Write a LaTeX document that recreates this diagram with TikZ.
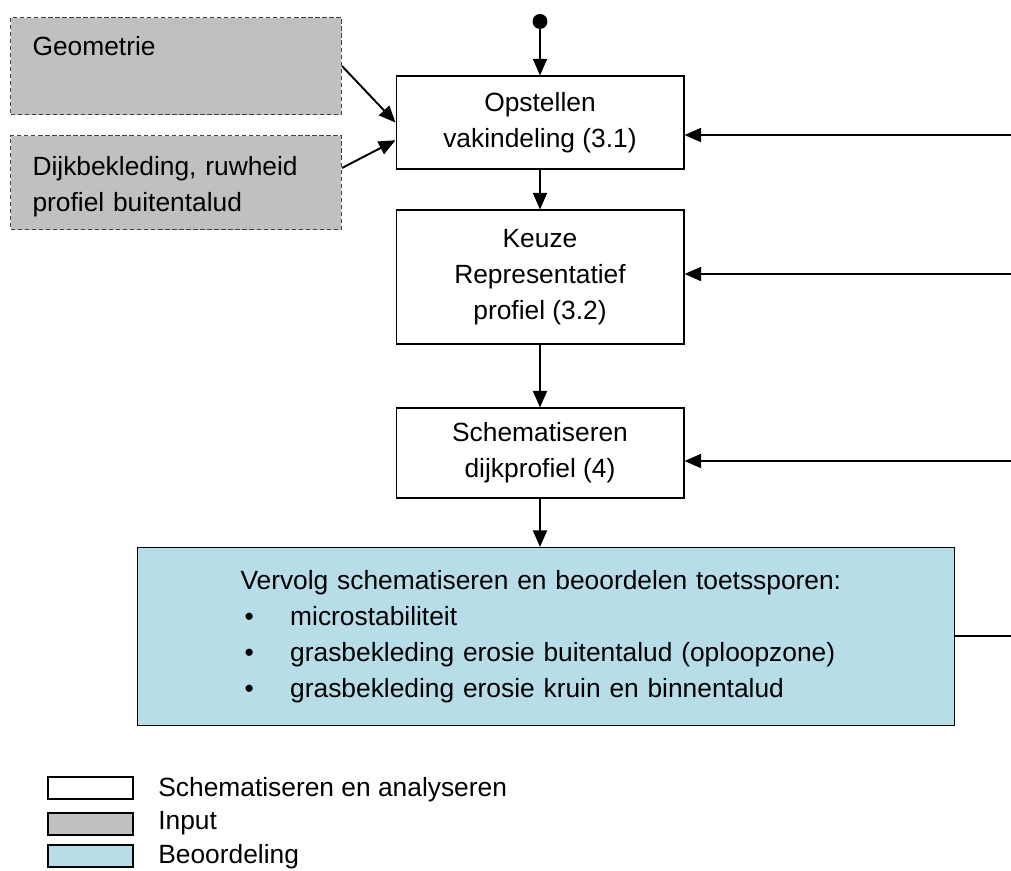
\documentclass[tikz,border=0pt]{standalone}
\usepackage{fontspec}
\setmainfont{Liberation Sans}
\usetikzlibrary{arrows.meta}
\definecolor{inpgray}{HTML}{C0C0C0}
\definecolor{beoblue}{HTML}{B7DDE8}
\definecolor{dkgray}{HTML}{404040}
\newcommand{\boxfont}{\fontsize{15}{20.5}\selectfont}
\newcommand{\bul}{\hspace*{2.3pt}\makebox[26pt][l]{\textbullet}}
\tikzset{
  proc/.style={rectangle,draw=black,fill=white,line width=0.6pt,
               minimum width=5.76cm,align=center,font=\boxfont,
               inner sep=0pt},
  inp/.style={rectangle,draw=dkgray,fill=inpgray,line width=0.6pt,
              dash pattern=on 2.5pt off 1.5pt,anchor=north west,
              text width=5.74cm,align=left,font=\boxfont,
              inner xsep=0.44cm,inner ysep=0pt},
  beo/.style={rectangle,draw=black,fill=beoblue,line width=0.6pt,
              anchor=north west,minimum width=16.34cm,minimum height=3.56cm,
              text width=12.22cm,align=left,font=\boxfont,
              inner xsep=2.06cm,inner ysep=0pt},
  key/.style={rectangle,draw=black,fill=#1,line width=0.6pt,
              minimum width=1.7cm,minimum height=0.44cm,inner sep=0pt},
  lbl/.style={anchor=base west,font=\boxfont,inner sep=0pt},
  arr/.style={-{Triangle[length=9.5pt,width=8pt]},line width=1.1pt},
  dotarr/.style={{Circle[length=8.5pt]}-{Triangle[length=9.5pt,width=8pt]},
                 line width=1.1pt},
  ln/.style={line width=1.1pt},
}

\begin{document}
\begin{tikzpicture}[x=0.02cm,y=-0.02cm]
  \useasboundingbox (0,0) rectangle (1011,870);

  % input blocks
  \node[inp,text height=0.76cm,text depth=1.18cm] (geo) at (10,17) {Geometrie};
  \node[inp,text height=0.8cm,text depth=1.08cm] (dijk) at (10,135)
    {Dijkbekleding, ruwheid\\profiel buitentalud};

  % process chain
  \node[proc,minimum height=1.86cm] (opst) at (540,122.5)
    {Opstellen\\vakindeling (3.1)};
  \node[proc,minimum height=2.68cm] (keuze) at (540,277)
    {Keuze\\Representatief\\profiel (3.2)};
  \node[proc,minimum height=1.8cm] (schem) at (540,453)
    {Schematiseren\\dijkprofiel (4)};
  \node[beo] (beo) at (137,547)
    {Vervolg schematiseren en beoordelen toetssporen:\\
     \bul microstabiliteit\\
     \bul grasbekleding erosie buitentalud (oploopzone)\\
     \bul grasbekleding erosie kruin en binnentalud};

  \coordinate (start) at (540,14);
  \coordinate (r1) at (1011,135);
  \coordinate (r2) at (1011,274);
  \coordinate (r3) at (1011,461);
  \coordinate (rb) at (1011,636);

  \draw[dotarr] (start) -- (opst.north);
  \draw[arr] (geo.east) -- (opst.west);
  \draw[arr] (dijk.5) -- (opst.187);
  \draw[arr] (opst.south) -- (keuze.north);
  \draw[arr] (keuze.south) -- (schem.north);
  \draw[arr] (schem.south) -- (schem.south |- beo.north);

  \foreach \r/\n in {r1/opst,r2/keuze,r3/schem}
    \draw[arr] (\r) -- (\r -| \n.east);
  \draw[ln] (rb -| beo.east) -- (rb);

  % legend
  \node[key=white]   (k1) at (90.5,788) {};
  \node[key=inpgray] (k2) at (90.5,824) {};
  \node[key=beoblue] (k3) at (90.5,856) {};
  \node[lbl] (t1) at (158,796) {Schematiseren en analyseren};
  \node[lbl] (t2) at (158,829) {Input};
  \node[lbl] (t3) at (158,863) {Beoordeling};
\end{tikzpicture}
\end{document}
